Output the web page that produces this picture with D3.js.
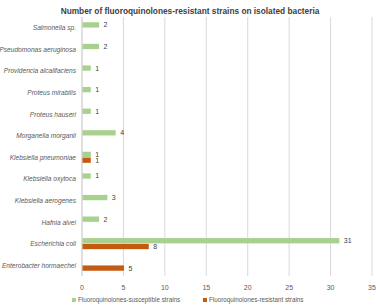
<!DOCTYPE html>
<html>
<head>
<meta charset="utf-8">
<script src="https://cdn.jsdelivr.net/npm/d3@7"></script>
<style>
  body { margin: 0; background: #fff; }
  svg { display: block; font-family: "Liberation Sans", Arial, sans-serif; }
</style>
</head>
<body>
<div id="chart"></div>
<script>
const categories = [
    "Salmonella sp.", "Pseudomonas aeruginosa", "Providencia alcalifaciens",
    "Proteus mirabilis", "Proteus hauseri", "Morganella morganii",
    "Klebsiella pneumoniae", "Klebsiella oxytoca", "Klebsiella aerogenes",
    "Hafnia alvei", "Escherichia coli", "Enterobacter hormaechei"
];
const susceptible = [2, 2, 1, 1, 1, 4, 1, 1, 3, 2, 31, 0];
const resistant = [0, 0, 0, 0, 0, 0, 1, 0, 0, 0, 8, 5];
const seriesNames = ["Fluoroquinolones-susceptible strains", "Fluoroquinolones-resistant strains"];
const seriesColors = ["#a9d18e", "#c55a11"];
const xTicks = [0, 5, 10, 15, 20, 25, 30, 35];

const width = 376, height = 305;
const margin = {left: 82, right: 4, top: 17, bottom: 29};

const svg = d3.select("#chart").append("svg")
    .attr("width", width)
    .attr("height", height);

const x = d3.scaleLinear().domain([0, 35]).range([margin.left, 372]);
const y = d3.scaleBand().domain(categories).range([margin.top, height - margin.bottom]).paddingInner(0).paddingOuter(0);
const sub = d3.scaleBand().domain([0, 1]).range([y.bandwidth() / 2 - 6, y.bandwidth() / 2 + 6]).padding(0.08);

svg.append("text")
    .attr("x", 190).attr("y", 14)
    .attr("text-anchor", "middle")
    .attr("font-size", "8.3px")
    .attr("font-weight", "bold")
    .attr("fill", "#404040")
    .text("Number of fluoroquinolones-resistant strains on isolated bacteria");

// gridlines
svg.append("g")
    .selectAll("line")
    .data(xTicks)
    .join("line")
    .attr("x1", d => x(d)).attr("x2", d => x(d))
    .attr("y1", margin.top).attr("y2", height - margin.bottom)
    .attr("stroke", d => d === 0 ? "#bfbfbf" : "#d9d9d9")
    .attr("stroke-width", 1);

svg.append("g")
    .selectAll("text")
    .data(xTicks)
    .join("text")
    .attr("x", d => x(d)).attr("y", 290)
    .attr("text-anchor", "middle")
    .attr("font-size", "7px")
    .attr("fill", "#595959")
    .text(d => d);

// category labels
svg.append("g")
    .selectAll("text")
    .data(categories)
    .join("text")
    .attr("x", 76)
    .attr("y", d => y(d) + y.bandwidth() / 2 + 2.5)
    .attr("text-anchor", "end")
    .attr("font-size", "6.6px")
    .attr("font-style", "italic")
    .attr("fill", "#595959")
    .text(d => d);

const rows = [];
categories.forEach(function(c, i) {
    if (susceptible[i] > 0) rows.push({cat: c, s: 0, v: susceptible[i]});
    if (resistant[i] > 0) rows.push({cat: c, s: 1, v: resistant[i]});
});

svg.append("g")
    .selectAll("rect")
    .data(rows)
    .join("rect")
    .attr("x", x(0) + 0.5)
    .attr("y", d => y(d.cat) + sub(d.s))
    .attr("width", d => x(d.v) - x(0))
    .attr("height", sub.bandwidth())
    .attr("fill", d => seriesColors[d.s]);

svg.append("g")
    .selectAll("text")
    .data(rows)
    .join("text")
    .attr("x", d => x(d.v) + 5)
    .attr("y", d => y(d.cat) + sub(d.s) + sub.bandwidth() / 2 + 2.5)
    .attr("font-size", "7px")
    .attr("fill", "#404040")
    .text(d => d.v);

// legend
const legendX = [72, 203];
seriesNames.forEach(function(n, i) {
    svg.append("rect")
        .attr("x", legendX[i]).attr("y", 298)
        .attr("width", 4).attr("height", 4)
        .attr("fill", seriesColors[i]);
    svg.append("text")
        .attr("x", legendX[i] + 6).attr("y", 302)
        .attr("font-size", "6.3px")
        .attr("fill", "#595959")
        .text(n);
});
</script>
</body>
</html>
